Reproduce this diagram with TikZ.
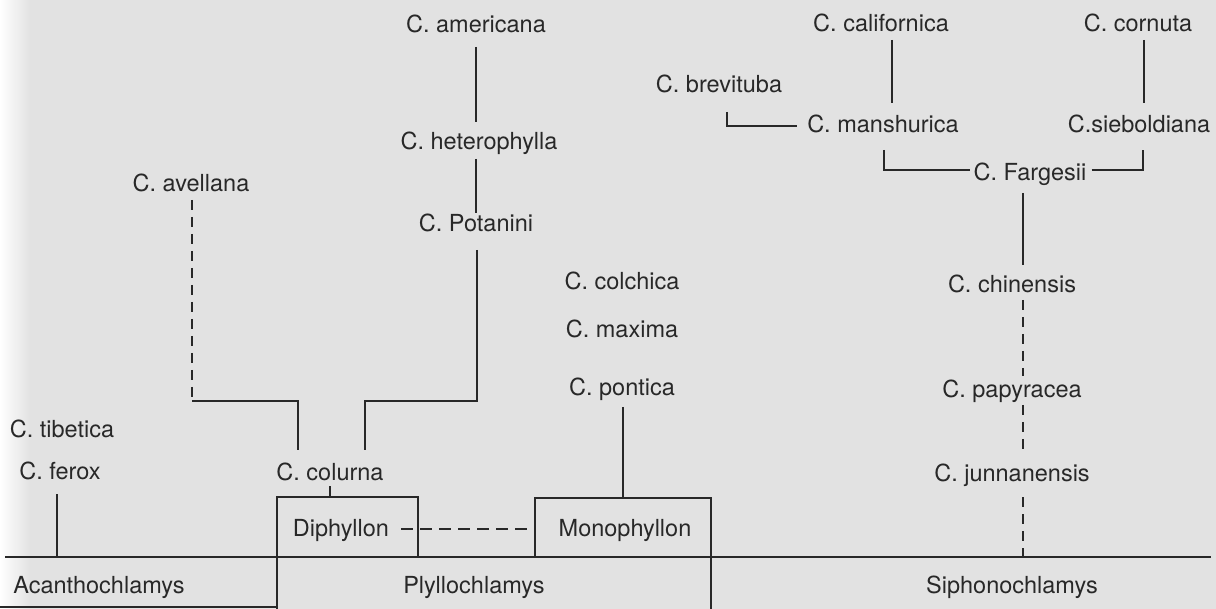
\documentclass[tikz,border=0pt]{standalone}
\usepackage{fontspec}
\setmainfont{TeX Gyre Heros}
\definecolor{bg}{RGB}{226,226,226}
\definecolor{ink}{RGB}{40,40,40}
\begin{document}
\begin{tikzpicture}[x=1pt,y=-1pt,
  lab/.style={anchor=base, inner sep=0pt, text=ink, font=\fontsize{23.5}{28}\selectfont},
  ln/.style={draw=ink, line width=1.5pt},
  dln/.style={ln, dash pattern=on 10pt off 7pt},
  hdln/.style={ln, dash pattern=on 12pt off 7pt},
]
\fill[bg] (0,0) rectangle (1216,609);
\shade[left color=white, right color=bg] (0,0) rectangle (30,609);
\useasboundingbox (0,0) rectangle (1216,609);

% ---------- labels ----------
\node[lab] (amer)   at (476,33)  {C. americana};
\node[lab] (hetero) at (479,150) {C. heterophylla};
\node[lab] (potan)  at (476,232) {C. Potanini};
\node[lab] (avell)  at (191,192) {C. avellana};
\node[lab] (colch)  at (622,290) {C. colchica};
\node[lab] (maxim)  at (622,338) {C. maxima};
\node[lab] (pont)   at (622,396) {C. pontica};
\node[lab] (tibet)  at (62,438)  {C. tibetica};
\node[lab] (ferox)  at (60,479)  {C. ferox};
\node[lab] (colur)  at (330,481) {C. colurna};
\node[lab] (diph)   at (341,536) {Diphyllon};
\node[lab] (monoph) at (625,536) {Monophyllon};
\node[lab] (acan)   at (99,593)  {Acanthochlamys};
\node[lab] (plyl)   at (474,593) {Plyllochlamys};
\node[lab] (sipho)  at (1012,593) {Siphonochlamys};
\node[lab] (brevi)  at (719,93)  {C. brevituba};
\node[lab] (calif)  at (881,32)  {C. californica};
\node[lab] (corn)   at (1138,32) {C. cornuta};
\node[lab] (mansh)  at (883,133) {C. manshurica};
\node[lab] (siebo)  at (1139,133) {C.sieboldiana};
\node[lab] (farg)   at (1030,181) {C. Fargesii};
\node[lab] (chin)   at (1012,293) {C. chinensis};
\node[lab] (papy)   at (1012,398) {C. papyracea};
\node[lab] (junn)   at (1012,482) {C. junnanensis};

% ---------- left group ----------
\coordinate (amerB) at (476,47);  \coordinate (hetT) at (476,122);
\coordinate (hetB)  at (476,159); \coordinate (potT) at (476,213);
\coordinate (potB)  at (477,250); \coordinate (potK) at (477,401);
\coordinate (jR)    at (365,401); \coordinate (jRB)  at (365,450);
\coordinate (avB)   at (192,200); \coordinate (avK)  at (192,401);
\coordinate (jL)    at (298,401); \coordinate (jLB)  at (298,450);
\draw[ln] (amerB) -- (hetT);
\draw[ln] (hetB) -- (potT);
\draw[ln] (potB) -- (potK) -- (jR) -- (jRB);
\draw[dln] (avB) -- (avK);
\draw[ln] (avK) -- (jL) -- (jLB);

\coordinate (colB) at (330,486); \coordinate (diphT) at (330,497);
\draw[ln] (colB) -- (diphT);
\coordinate (dBot) at (277,609); \coordinate (dTL) at (277,497);
\coordinate (dTR) at (418,497);  \coordinate (dBR) at (418,557);
\draw[ln] (dBot) -- (dTL) -- (dTR) -- (dBR);

\coordinate (mBL) at (535,557); \coordinate (mTL) at (535,498);
\coordinate (mTR) at (711,498); \coordinate (mBot) at (711,609);
\draw[ln] (mBL) -- (mTL) -- (mTR) -- (mBot);
\coordinate (pontB) at (623,407); \coordinate (monT) at (623,498);
\draw[ln] (pontB) -- (monT);
\coordinate (dsA) at (401,529); \coordinate (dsB) at (527,529);
\draw[hdln] (dsA) -- (dsB);

\coordinate (baseL) at (5,557); \coordinate (baseR) at (1211,557);
\draw[ln] (baseL) -- (baseR);
\coordinate (botL) at (0,607); \coordinate (botR) at (277,607);
\draw[ln] (botL) -- (botR);
\coordinate (ferB) at (57,494); \coordinate (ferK) at (57,557);
\draw[ln] (ferB) -- (ferK);

% ---------- right group ----------
\coordinate (brB) at (727,112); \coordinate (brK) at (727,126); \coordinate (brE) at (797,126);
\draw[ln] (brB) -- (brK) -- (brE);
\coordinate (caB) at (892,40);  \coordinate (caE) at (892,103);
\draw[ln] (caB) -- (caE);
\coordinate (coB) at (1144,40); \coordinate (coE) at (1144,103);
\draw[ln] (coB) -- (coE);
\coordinate (maB) at (884,150); \coordinate (maK) at (884,170);
\draw[ln] (maB) -- (maK) -- ([xshift=-3pt]maK -| farg.west);
\coordinate (siK) at (1143,170); \coordinate (siB) at (1143,150);
\draw[ln] ([xshift=5pt]siK -| farg.east) -- (siK) -- (siB);
\coordinate (faB) at (1023,193); \coordinate (chT) at (1023,265);
\draw[ln] (faB) -- (chT);
\coordinate (chB) at (1023,300); \coordinate (paT) at (1023,376);
\draw[dln] (chB) -- (paT);
\coordinate (paB) at (1023,405); \coordinate (juT) at (1023,452);
\draw[dln] (paB) -- (juT);
\coordinate (juB) at (1023,497); \coordinate (juK) at (1023,557);
\draw[dln] (juB) -- (juK);
\end{tikzpicture}
\end{document}
